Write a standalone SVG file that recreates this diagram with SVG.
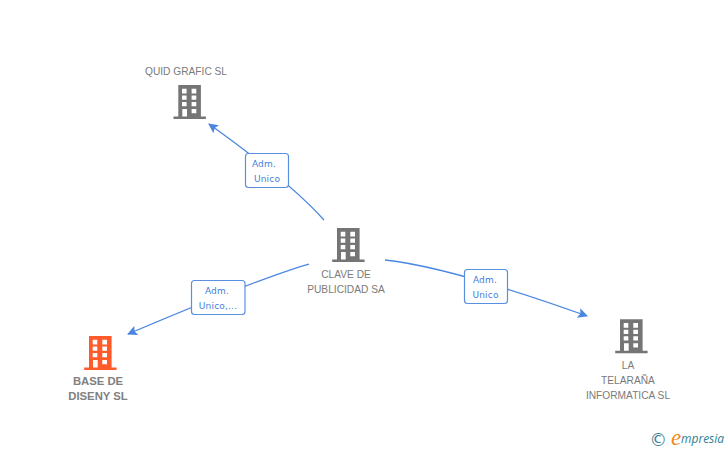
<svg xmlns="http://www.w3.org/2000/svg" width="728" height="450" viewBox="0 0 728 450">
<style>
.n{font:10.2px "Liberation Sans",Arial,sans-serif;fill:#7a7a7a;text-anchor:middle}
.b{font-weight:bold;font-size:11.3px;fill:#808080}
.l{font:9px "DejaVu Sans",Verdana,sans-serif;fill:#3f7fdc;text-anchor:middle;letter-spacing:.2px}
.c{fill:none;stroke:#4a86e0;stroke-width:1.3;marker-end:url(#a)}
.box{fill:#fff;stroke:#5a90e2;stroke-width:1.2}
.g{fill:#757575}.o{fill:#ff5a2a}
</style>
<defs>
<marker id="a" viewBox="0 0 10 10" refX="9" refY="5" markerWidth="10" markerHeight="11" markerUnits="userSpaceOnUse" orient="auto"><path d="M0 0L10 5L0 10L2 5Z" fill="#4a86e0"/></marker>
<path id="bld" fill-rule="evenodd" d="M0 0H22.6V31.5H27.6V34H-4.8V31.5H0ZM3.700 3.700V8.500H8.300V3.700ZM13.300 3.700V8.500H18V3.700ZM3.700 10.400V14.700H8.300V10.400ZM13.300 10.400V14.700H18V10.400ZM3.700 17V21.300H8.300V17ZM13.300 17V21.300H18V17ZM4 24V31.500H8.700V24ZM13.300 24V28.300H18V24Z"/>
</defs>
<rect width="728" height="450" fill="#fff"/>
<g id="connectors">
<path class="c" d="M324 220Q290 182 209 124"/>
<path class="c" d="M309 264Q260 278 128 334"/>
<path class="c" d="M385 260Q450 267 587 316"/>
</g>
<g id="label-quid"><rect class="box" x="245.500" y="153.500" width="43" height="34" rx="3"/><text class="l" x="264" y="167">Adm.</text><text class="l" x="267" y="182">Unico</text></g>
<g id="label-base"><rect class="box" x="191.500" y="280.500" width="53.500" height="34" rx="3"/><text class="l" x="217" y="294">Adm.</text><text class="l" x="218" y="309">Unico,...</text></g>
<g id="label-tela"><rect class="box" x="464.500" y="269.500" width="43" height="34" rx="3"/><text class="l" x="485" y="283">Adm.</text><text class="l" x="485.500" y="298">Unico</text></g>
<g id="node-quid"><text class="n" x="186" y="75">QUID GRAFIC SL</text><use href="#bld" class="g" x="178.300" y="85"/></g>
<g id="node-clave"><use href="#bld" class="g" x="337" y="228"/><text class="n" x="346" y="278">CLAVE DE</text><text class="n" x="346" y="293">PUBLICIDAD SA</text></g>
<g id="node-base"><use href="#bld" class="o" x="89" y="336"/><text class="n b" x="98" y="385">BASE DE</text><text class="n b" x="98" y="400">DISENY SL</text></g>
<g id="node-tela"><use href="#bld" class="g" x="620" y="319.300"/><text class="n" x="628" y="369">LA</text><text class="n" x="628" y="384">TELARAÑA</text><text class="n" x="628" y="399">INFORMATICA SL</text></g>
<g id="logo"><text x="649.500" y="446" font-family="'DejaVu Sans',sans-serif" font-size="17.500" fill="#3d7f96">©</text><text x="671" y="445" font-family="'Liberation Serif',serif" font-style="italic" font-size="23" fill="#f08a1d">e</text><text x="681" y="443" font-family="'Open Sans',sans-serif" font-style="italic" font-size="12" fill="#2f7f96">mpresia</text></g>
</svg>
